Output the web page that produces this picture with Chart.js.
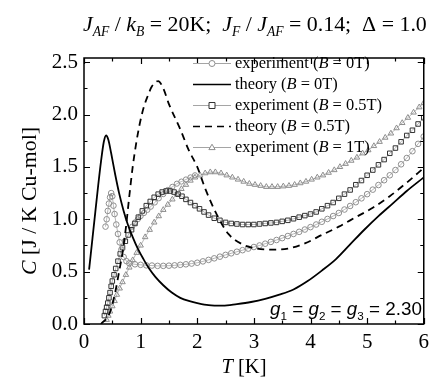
<!DOCTYPE html>
<html><head><meta charset="utf-8">
<script src="https://cdn.jsdelivr.net/npm/chart.js@4/dist/chart.umd.min.js"></script>
<style>html,body{margin:0;padding:0;background:#fff;}canvas{display:block}</style>
</head><body>
<canvas id="c" width="435" height="379" style="width:435px;height:379px"></canvas>
<script>
// ---------- data ----------
const xTicks = [0, 1, 2, 3, 4, 5, 6];
const yTicks = [0.0, 0.5, 1.0, 1.5, 2.0, 2.5];

// experiment B = 0T (circles)
const expB0_T = [0.38,0.40,0.42,0.44,0.46,0.48,0.50,0.52,0.54,0.57,0.60,0.63,0.66,0.70,0.75,0.80,0.90,
  1.0,1.1,1.2,1.3,1.4,1.5,1.6,1.7,1.8,1.9,2.0,2.1,2.2,2.3,2.4,2.5,2.6,2.7,2.8,2.9,3.0,3.1,3.2,3.3,3.4,3.5,3.6,3.7,3.8,3.9,
  4.0,4.1,4.2,4.3,4.4,4.5,4.6,4.7,4.8,4.9,5.0,5.1,5.2,5.3,5.4,5.5,5.6,5.7,5.8,5.9,6.0];
const expB0_C = [0.93,1.00,1.08,1.15,1.21,1.25,1.22,1.13,1.05,0.95,0.86,0.78,0.71,0.64,0.60,0.58,0.57,
  0.565,0.56,0.558,0.555,0.555,0.557,0.56,0.565,0.57,0.577,0.585,0.598,0.612,0.627,0.643,0.66,0.675,0.69,0.705,0.72,0.735,0.75,0.767,0.784,0.802,0.82,0.84,0.86,0.88,0.902,
  0.925,0.95,0.976,1.003,1.031,1.06,1.093,1.127,1.163,1.20,1.24,1.283,1.327,1.373,1.42,1.47,1.525,1.585,1.65,1.72,1.79];

// experiment B = 0.5T (squares)
const expB05_T = [0.36,0.38,0.40,0.42,0.44,0.46,0.48,0.50,0.53,0.56,0.60,0.64,0.68,0.73,0.78,0.84,0.90,0.96,1.03,1.10,1.17,1.24,1.31,1.38,1.45,1.52,1.59,1.66,1.73,1.80,1.88,1.96,2.04,2.12,2.20,2.30,2.40,2.50,2.60,2.70,2.80,2.90,
  3.0,3.1,3.2,3.3,3.4,3.5,3.6,3.7,3.8,3.9,4.0,4.1,4.2,4.3,4.4,4.5,4.6,4.7,4.8,4.9,5.0,5.1,5.2,5.3,5.4,5.5,5.6,5.7,5.8,5.9,6.0];
const expB05_C = [0.08,0.12,0.16,0.20,0.25,0.30,0.36,0.41,0.47,0.53,0.60,0.67,0.73,0.79,0.85,0.90,0.96,1.02,1.08,1.13,1.17,1.21,1.24,1.26,1.27,1.27,1.26,1.24,1.22,1.19,1.16,1.13,1.10,1.07,1.04,1.01,0.99,0.97,0.96,0.955,0.95,0.95,
  0.95,0.955,0.96,0.965,0.97,0.98,0.99,1.005,1.02,1.035,1.05,1.07,1.10,1.13,1.16,1.20,1.24,1.28,1.33,1.37,1.42,1.47,1.52,1.57,1.63,1.68,1.74,1.80,1.85,1.91,1.97];

// experiment B = 1T (triangles)
const expB1_T = [0.40,0.43,0.46,0.50,0.54,0.58,0.63,0.68,0.74,0.80,0.86,0.93,1.00,1.08,1.16,1.24,1.32,1.40,1.48,1.56,1.64,1.72,1.80,1.88,1.96,2.05,2.14,2.23,2.32,2.42,2.52,2.62,2.72,2.82,2.92,
  3.02,3.12,3.22,3.32,3.42,3.52,3.62,3.72,3.82,3.92,4.02,4.12,4.22,4.32,4.42,4.52,4.62,4.72,4.82,4.92,5.02,5.12,5.22,5.32,5.42,5.52,5.62,5.72,5.82,5.92,6.0];
const expB1_C = [0.04,0.08,0.12,0.17,0.22,0.28,0.34,0.40,0.47,0.54,0.61,0.68,0.75,0.83,0.90,0.97,1.03,1.09,1.14,1.19,1.24,1.29,1.33,1.37,1.40,1.42,1.44,1.45,1.45,1.44,1.42,1.40,1.38,1.36,1.34,
  1.33,1.32,1.31,1.31,1.31,1.315,1.32,1.33,1.345,1.36,1.38,1.40,1.42,1.445,1.47,1.50,1.53,1.56,1.59,1.63,1.66,1.70,1.74,1.78,1.82,1.87,1.92,1.97,2.02,2.07,2.11];

// second rising branch of grey open circles (joins the B = 1T band)
const expB1b_T = [0.85,0.90,0.95,1.00,1.06,1.12,1.18,1.25,1.32,1.40,1.48,1.56,1.64,1.72,1.80,1.88,1.96];
const expB1b_C = [0.93,0.97,1.00,1.03,1.06,1.09,1.12,1.16,1.20,1.24,1.28,1.31,1.34,1.36,1.38,1.40,1.42];

// theory B = 0T (solid)
const thB0_T = [0.09,0.15,0.20,0.25,0.30,0.35,0.39,0.43,0.48,0.55,0.62,0.70,0.78,0.86,0.95,1.05,1.15,1.26,1.40,1.55,1.70,1.85,2.00,2.20,2.45,2.70,2.95,3.20,3.45,3.70,3.95,4.20,4.45,4.70,4.95,5.20,5.45,5.70,6.00];
const thB0_C = [0.52,0.82,1.07,1.32,1.55,1.74,1.80,1.76,1.63,1.43,1.25,1.08,0.94,0.83,0.72,0.62,0.53,0.45,0.37,0.30,0.25,0.22,0.20,0.18,0.175,0.19,0.21,0.24,0.28,0.33,0.41,0.51,0.62,0.76,0.90,1.03,1.15,1.27,1.40];

// theory B = 0.5T (dashed)
const thB05_T = [0.30,0.45,0.55,0.62,0.68,0.74,0.80,0.86,0.92,0.98,1.05,1.12,1.20,1.31,1.40,1.50,1.70,1.85,2.00,2.15,2.35,2.55,2.80,3.05,3.30,3.60,3.90,4.20,4.50,4.80,5.10,5.40,5.70,6.00];
const thB05_C = [0.00,0.10,0.30,0.50,0.68,0.92,1.22,1.50,1.72,1.90,2.06,2.17,2.27,2.32,2.25,2.10,1.86,1.66,1.50,1.28,1.04,0.86,0.76,0.72,0.71,0.72,0.77,0.85,0.93,1.02,1.11,1.22,1.35,1.49];

const legendLabels = ['experiment (B = 0T)','theory (B = 0T)','experiment (B = 0.5T)','theory (B = 0.5T)','experiment (B = 1T)'];

// ---------- helpers ----------
const pts = (T, C) => T.map((t, i) => ({x: t, y: C[i]}));
const SERIF = "'Liberation Serif'";
const SANS = "'Liberation Sans'";
const GREY = '#8e8e8e';
Chart.defaults.font.family = SERIF;

function fontStr(s, size, fam){ return (s.i ? 'italic ' : '') + size.toFixed(2) + 'px ' + fam; }
function richWidth(ctx, segs, size, fam){
  let w = 0;
  for (const s of segs){ const sz = s.sub ? size*0.62 : size; ctx.font = fontStr(s, sz, fam); w += ctx.measureText(s.t).width; }
  return w;
}
function drawRich(ctx, segs, x, y, size, fam){
  for (const s of segs){
    const sz = s.sub ? size*0.62 : size;
    ctx.font = fontStr(s, sz, fam);
    ctx.fillText(s.t, x, y + (s.sub ? size*0.24 : 0));
    x += ctx.measureText(s.t).width;
  }
}
function fit(ctx, segs, fam, target){ return 20*target/richWidth(ctx, segs, 20, fam); }
function legendSegs(label){
  const k = label.indexOf('B =');
  return [{t: label.slice(0, k)}, {t: 'B', i: true}, {t: label.slice(k+1)}];
}
function drawMarker(ctx, style, x, y, r, color){
  ctx.save(); ctx.strokeStyle = color; ctx.lineWidth = 1; ctx.fillStyle = '#fff';
  ctx.beginPath();
  if (style === 'circle'){ ctx.arc(x, y, r, 0, Math.PI*2); }
  else if (style === 'rect'){ ctx.rect(x-r, y-r, 2*r, 2*r); }
  else { ctx.moveTo(x, y-r*1.1); ctx.lineTo(x+r*1.05, y+r*0.7); ctx.lineTo(x-r*1.05, y+r*0.7); ctx.closePath(); }
  ctx.fill(); ctx.stroke(); ctx.restore();
}

const decor = {
  id: 'decor',
  afterDraw(chart){
    const ctx = chart.ctx, a = chart.chartArea, xs = chart.scales.x, ys = chart.scales.y;
    ctx.save();
    ctx.fillStyle = '#000'; ctx.strokeStyle = '#000';
    // frame
    ctx.lineWidth = 1.5;
    ctx.strokeRect(a.left, a.top, a.right - a.left, a.bottom - a.top);
    // inward ticks on all four sides
    ctx.lineWidth = 1.2;
    ctx.beginPath();
    for (let v = 0; v <= 6.001; v += 0.5){
      const p = Math.round(xs.getPixelForValue(v)) + 0.5;
      const L = (Math.abs(v - Math.round(v)) < 1e-6) ? 6 : 3.5;
      ctx.moveTo(p, a.bottom); ctx.lineTo(p, a.bottom - L);
      ctx.moveTo(p, a.top); ctx.lineTo(p, a.top + L);
    }
    for (let v = 0; v <= 2.5001; v += 0.25){
      const p = Math.round(ys.getPixelForValue(v)) + 0.5;
      const L = (Math.abs(v*2 - Math.round(v*2)) < 1e-6) ? 6 : 3.5;
      ctx.moveTo(a.left, p); ctx.lineTo(a.left + L, p);
      ctx.moveTo(a.right, p); ctx.lineTo(a.right - L, p);
    }
    ctx.stroke();

    ctx.textBaseline = 'alphabetic'; ctx.textAlign = 'left';
    // title
    const title = [{t:'J',i:1},{t:'AF',i:1,sub:1},{t:' / '},{t:'k',i:1},{t:'B',i:1,sub:1},{t:' = 20K;  '},
      {t:'J',i:1},{t:'F',i:1,sub:1},{t:' / '},{t:'J',i:1},{t:'AF',i:1,sub:1},{t:' = 0.14;  Δ = 1.0'}];
    const ts = fit(ctx, title, SERIF, 344);
    drawRich(ctx, title, 83, 31, ts, SERIF);

    // y-axis title
    const yt = [{t:'C',i:1},{t:' [J / K Cu-mol]'}];
    const ys2 = fit(ctx, yt, SERIF, 148);
    const yw = richWidth(ctx, yt, ys2, SERIF);
    ctx.save(); ctx.translate(29, 201); ctx.rotate(-Math.PI/2);
    drawRich(ctx, yt, -yw/2, ys2*0.34, ys2, SERIF);
    ctx.restore();

    // x-axis title
    const xt = [{t:'T',i:1},{t:' [K]'}];
    const xs2 = fit(ctx, xt, SERIF, 45);
    const xw = richWidth(ctx, xt, xs2, SERIF);
    drawRich(ctx, xt, 244 - xw/2, 373, xs2, SERIF);

    // g annotation
    const g = [{t:'g',i:1},{t:'1',sub:1},{t:' = '},{t:'g',i:1},{t:'2',sub:1},{t:' = '},{t:'g',i:1},{t:'3',sub:1},{t:' = 2.30'}];
    const gs = fit(ctx, g, SANS, 152);
    drawRich(ctx, g, 270, 315, gs, SANS);

    // legend
    const ls = fit(ctx, legendSegs(legendLabels[2]), SERIF, 147);
    const rows = [63, 84, 105, 126, 147];
    const ds = chart.data.datasets;
    const legendMap = [0, 3, 1, 4, 2];
    rows.forEach((ry, k) => {
      const d = ds[legendMap[k]];
      ctx.save();
      ctx.strokeStyle = d.borderColor; ctx.lineWidth = d.legendLineWidth || d.borderWidth;
      ctx.setLineDash(d.borderDash || []);
      ctx.beginPath(); ctx.moveTo(193, ry + 0.5); ctx.lineTo(231, ry + 0.5); ctx.stroke();
      ctx.restore();
      if (d.pointRadius > 0) drawMarker(ctx, d.pointStyle, 212, ry + 0.5, 3, d.pointBorderColor);
      ctx.fillStyle = '#000';
      drawRich(ctx, legendSegs(legendLabels[k]), 235, ry + ls*0.33, ls, SERIF);
    });
    ctx.restore();
  }
};

const chart = new Chart(document.getElementById('c'), {
  type: 'scatter',
  data: {
    datasets: [
      { label: legendLabels[0], data: pts(expB0_T, expB0_C), showLine: true, borderColor: '#a5a5a5', borderWidth: 0.8, legendLineWidth: 1.2,
        pointStyle: 'circle', pointRadius: 2.8, pointBorderColor: GREY, pointBackgroundColor: 'rgba(255,255,255,0)', pointBorderWidth: 1, order: 3 },
      { label: legendLabels[2], data: pts(expB05_T, expB05_C), showLine: true, borderColor: '#a5a5a5', borderWidth: 0.8, legendLineWidth: 1.2,
        pointStyle: 'rect', pointRadius: 3.2, pointBorderColor: '#333', pointBackgroundColor: 'rgba(255,255,255,0)', pointBorderWidth: 1, order: 3 },
      { label: legendLabels[4], data: pts(expB1_T, expB1_C), showLine: true, borderColor: '#a5a5a5', borderWidth: 0.8, legendLineWidth: 1.2,
        pointStyle: 'triangle', pointRadius: 3.2, pointBorderColor: GREY, pointBackgroundColor: 'rgba(255,255,255,0)', pointBorderWidth: 1, order: 3 },
      { label: legendLabels[1], data: pts(thB0_T, thB0_C), showLine: true, borderColor: '#000', borderWidth: 1.8, legendLineWidth: 1.5,
        pointRadius: 0, cubicInterpolationMode: 'monotone', order: 1 },
      { label: legendLabels[3], data: pts(thB05_T, thB05_C), showLine: true, borderColor: '#000', borderWidth: 1.8, legendLineWidth: 1.5,
        borderDash: [7, 5], pointRadius: 0, cubicInterpolationMode: 'monotone', order: 1 },
      { label: 'branch', data: pts(expB1b_T, expB1b_C), showLine: true, borderColor: '#a5a5a5', borderWidth: 0.8,
        pointStyle: 'circle', pointRadius: 2.6, pointBorderColor: GREY, pointBackgroundColor: 'rgba(255,255,255,0)', pointBorderWidth: 1, order: 3 }
    ]
  },
  options: {
    responsive: false, animation: false, devicePixelRatio: 1,
    layout: { padding: { top: 58, right: 6, left: 0, bottom: 0 } },
    plugins: { legend: { display: false }, tooltip: { enabled: false }, title: { display: false } },
    scales: {
      x: { type: 'linear', min: 0, max: 6,
        afterBuildTicks: s => { s.ticks = xTicks.map(v => ({value: v})); },
        afterFit: s => { s.height = 55; },
        grid: { display: false, drawTicks: false }, border: { display: false },
        ticks: { padding: 6, color: '#000', font: { family: SERIF, size: 21 }, callback: v => String(v), maxRotation: 0 } },
      y: { type: 'linear', min: 0, max: 2.54,
        afterBuildTicks: s => { s.ticks = yTicks.map(v => ({value: v})); },
        afterFit: s => { s.width = 84; },
        grid: { display: false, drawTicks: false }, border: { display: false },
        ticks: { padding: 6, color: '#000', font: { family: SERIF, size: 21 }, callback: v => Number(v).toFixed(1) } }
    }
  },
  plugins: [decor]
});
</script>
</body></html>
